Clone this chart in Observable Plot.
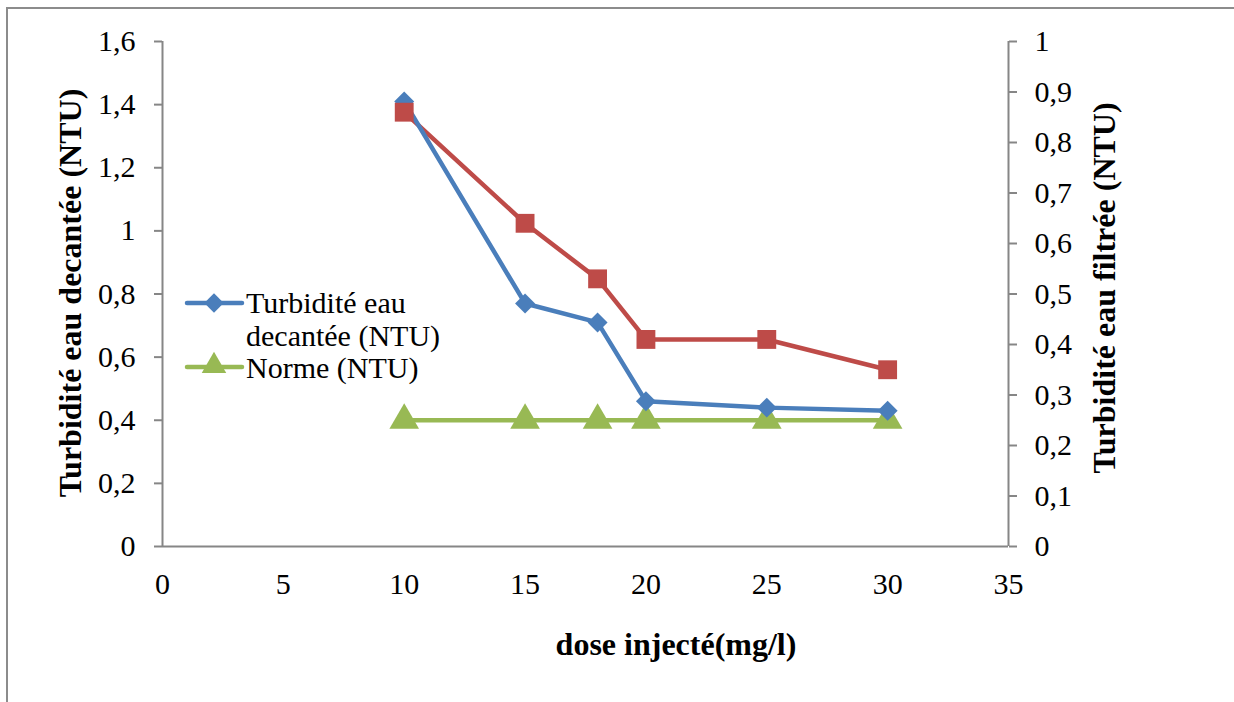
<!DOCTYPE html>
<html>
<head>
<meta charset="utf-8">
<script src="https://cdn.jsdelivr.net/npm/d3@7"></script>
<script src="https://cdn.jsdelivr.net/npm/@observablehq/plot@0.6"></script>
<style>
  html, body { margin: 0; padding: 0; background: #fff; }
  #wrap { position: relative; width: 1234px; height: 702px; overflow: hidden; font-family: "Liberation Serif", "Times New Roman", Times, "DejaVu Serif", serif; }
  #frame { position: absolute; left: 6px; top: 7px; width: 1240px; height: 710px; border-top: 2px solid #8c8c8c; border-left: 2px solid #8c8c8c; }
  #chart { position: absolute; left: 0; top: 0; }
  #legend { position: absolute; left: 0; top: 0; pointer-events: none; }
  #wrap svg text { font-family: "Liberation Serif", "Times New Roman", Times, "DejaVu Serif", serif !important; }
</style>
</head>
<body>
<div id="wrap">
  <div id="frame"></div>
  <div id="chart"></div>
  <svg id="legend" width="1234" height="702"></svg>
</div>
<script>
// ---- data ----
const doses = [10, 15, 18, 20, 25, 30];
const decantee = [1.41, 0.77, 0.71, 0.46, 0.44, 0.43];   // left axis
const filtree = [0.86, 0.64, 0.53, 0.41, 0.41, 0.35];    // right axis
const norme = [0.4, 0.4, 0.4, 0.4, 0.4, 0.4];            // left axis
const xTicks = [0, 5, 10, 15, 20, 25, 30, 35];
const leftTicks = [0, 0.2, 0.4, 0.6, 0.8, 1, 1.2, 1.4, 1.6];
const rightTicks = [0, 0.1, 0.2, 0.3, 0.4, 0.5, 0.6, 0.7, 0.8, 0.9, 1];
const seriesNames = ["Turbidité eau decantée (NTU)", "Norme (NTU)", "Turbidité eau filtrée (NTU)"];
const colors = { blue: "#4a7ebb", red: "#be4b48", green: "#98b954" };

const leftMax = 1.6, rightMax = 1;
const ratio = leftMax / rightMax;
const fr = d => (Math.round(d * 10) / 10).toString().replace(".", ",");

const blue = doses.map((x, i) => ({ x, y: decantee[i] }));
const red = doses.map((x, i) => ({ x, y: filtree[i] * ratio }));
const green = doses.map((x, i) => ({ x, y: norme[i] }));

const gray = "#868686";
const serif = "'Liberation Serif', 'Times New Roman', Times, 'DejaVu Serif', serif";

const plot = Plot.plot({
  width: 1234,
  height: 702,
  marginLeft: 162,
  marginRight: 226,
  marginTop: 41,
  marginBottom: 156,
  style: { fontFamily: serif, fontSize: "30px", color: "#000", background: "transparent" },
  x: { domain: [0, 35] },
  y: { domain: [0, leftMax] },
  marks: [
    Plot.ruleY([0], { x1: 0, x2: 35, stroke: gray, strokeWidth: 2 }),
    Plot.ruleX([0], { y1: 0, y2: leftMax, stroke: gray, strokeWidth: 2 }),
    Plot.ruleX([35], { y1: 0, y2: leftMax, stroke: gray, strokeWidth: 2 }),
    Plot.axisX(xTicks, { tickSize: 0, tickPadding: 26, fontSize: 30, label: null, tickFormat: d => String(d) }),
    Plot.axisY(leftTicks, { anchor: "left", tickSize: 8, stroke: gray, strokeWidth: 2, tickPadding: 19, fontSize: 30, label: null, tickFormat: fr }),
    Plot.axisY(rightTicks.map(t => t * ratio), { anchor: "right", tickSize: 8, stroke: gray, strokeWidth: 2, tickPadding: 18, fontSize: 30, label: null, tickFormat: d => fr(d / ratio), textAnchor: "start" }),
    Plot.line(green, { x: "x", y: "y", stroke: colors.green, strokeWidth: 4.5 }),
    Plot.dot(green, { x: "x", y: "y", symbol: "triangle", fill: colors.green, r: 11 }),
    Plot.line(red, { x: "x", y: "y", stroke: colors.red, strokeWidth: 4.5 }),
    Plot.line(blue, { x: "x", y: "y", stroke: colors.blue, strokeWidth: 4.5 }),
    Plot.dot(blue, { x: "x", y: "y", symbol: "diamond2", fill: colors.blue, r: 9 }),
    Plot.dot(red, { x: "x", y: "y", symbol: "square2", fill: colors.red, r: 12 }),
  ]
});
document.getElementById("chart").appendChild(plot);

// ---- axis titles and legend (overlay) ----
const svg = d3.select("#legend");
svg.append("text").attr("transform", "translate(81,293) rotate(-90)")
  .attr("text-anchor", "middle").attr("font-weight", "bold").attr("font-size", 32)
  .text(seriesNames[0]);
svg.append("text").attr("transform", "translate(1115,288) rotate(-90)")
  .attr("text-anchor", "middle").attr("font-weight", "bold").attr("font-size", 32)
  .text(seriesNames[2]);
svg.append("text").attr("x", 676).attr("y", 655)
  .attr("text-anchor", "middle").attr("font-weight", "bold").attr("font-size", 32)
  .text("dose injecté(mg/l)");

const lg = svg.append("g");
lg.append("line").attr("x1", 187).attr("x2", 242).attr("y1", 303).attr("y2", 303).attr("stroke", colors.blue).attr("stroke-width", 4.5).attr("stroke-linecap", "round");
lg.append("path").attr("d", d3.symbol(d3.symbolDiamond2, 240)()).attr("transform", "translate(214,303)").attr("fill", colors.blue);
lg.append("text").attr("x", 246).attr("y", 313).attr("font-size", 30).text("Turbidité eau");
lg.append("text").attr("x", 246).attr("y", 346).attr("font-size", 30).text("decantée (NTU)");
lg.append("line").attr("x1", 187).attr("x2", 242).attr("y1", 367).attr("y2", 367).attr("stroke", colors.green).attr("stroke-width", 4.5).attr("stroke-linecap", "round");
lg.append("path").attr("d", d3.symbol(d3.symbolTriangle, 260)()).attr("transform", "translate(214,366)").attr("fill", colors.green);
lg.append("text").attr("x", 246).attr("y", 378).attr("font-size", 30).text(seriesNames[1]);
</script>
</body>
</html>
